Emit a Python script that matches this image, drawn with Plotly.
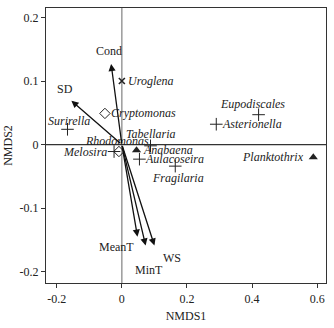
import plotly.graph_objects as go

# ---- data ----
species = ["Uroglena", "Cryptomonas", "Surirella", "Melosira", "Rhodomonas",
           "Tabellaria", "Anabaena", "Aulacoseira", "Fragilaria",
           "Eupodiscales", "Asterionella", "Planktothrix"]
sp_x = [0.000, -0.052, -0.167, -0.024, -0.009, 0.088, 0.045, 0.054, 0.164, 0.42, 0.29, 0.588]
sp_y = [0.100, 0.049, 0.024, -0.011, -0.011, -0.002, -0.009, -0.023, -0.034, 0.047, 0.032, -0.020]
sp_kind = ["x", "diamond", "plus", "plus", "diamond", "plus", "triangle", "plus",
           "plus", "plus", "plus", "triangle"]

env = ["Cond", "SD", "MeanT", "MinT", "WS"]
env_x = [-0.033, -0.155, 0.048, 0.073, 0.100]
env_y = [0.127, 0.069, -0.145, -0.159, -0.159]

x_ticks = [-0.2, 0, 0.2, 0.4, 0.6]
x_ticktext = ["-0.2", "0", "0.2", "0.4", "0.6"]
y_ticks = [-0.2, -0.1, 0, 0.1, 0.2]
y_ticktext = ["-0.2", "-0.1", "0", "0.1", "0.2"]

# ---- styles ----
FONT = "Liberation Serif, serif"
INK = "#222"
marker_style = {
    "x": dict(symbol="x-thin-open", size=6, color=INK, line=dict(color=INK, width=1.6)),
    "diamond": dict(symbol="diamond-open", size=8, color=INK, line=dict(color=INK, width=1)),
    "plus": dict(symbol="cross-thin-open", size=9, color=INK, line=dict(color=INK, width=1)),
    "triangle": dict(symbol="triangle-up", size=8, color=INK, line=dict(width=0)),
}
# label placement (xanchor, yanchor, xshift, yshift) in pixels
label_style = {
    "Uroglena": ("left", "middle", 4, 0),
    "Cryptomonas": ("left", "middle", 4, 0),
    "Surirella": ("center", "middle", 2, 8),
    "Melosira": ("right", "middle", -5, 0),
    "Rhodomonas": ("center", "middle", -2, 11),
    "Tabellaria": ("center", "middle", 0, 12),
    "Anabaena": ("left", "middle", 4, 0),
    "Aulacoseira": ("left", "middle", 4, 0),
    "Fragilaria": ("center", "middle", 3, -12),
    "Eupodiscales": ("center", "middle", -6, 11),
    "Asterionella": ("left", "middle", 4, 0),
    "Planktothrix": ("right", "middle", -7, 0),
}
env_label_shift = {
    "Cond": (-2, 13), "SD": (-6, 12), "MeanT": (-21, -10), "MinT": (3, -24), "WS": (18, -12),
}

fig = go.Figure()

# zero lines
fig.add_shape(type="line", xref="x", yref="paper", x0=0, x1=0, y0=0, y1=1,
              line=dict(color="#808080", width=1.2), layer="below")
fig.add_shape(type="line", xref="paper", yref="y", x0=0, x1=1, y0=0, y1=0,
              line=dict(color="#333", width=1.2), layer="below")

for kind in ["x", "diamond", "plus", "triangle"]:
    idx = [i for i, k in enumerate(sp_kind) if k == kind]
    fig.add_trace(go.Scatter(
        x=[sp_x[i] for i in idx], y=[sp_y[i] for i in idx],
        mode="markers", marker=marker_style[kind], showlegend=False, hoverinfo="skip"))

annotations = []
for name, x, y in zip(species, sp_x, sp_y):
    xa, ya, dx, dy = label_style[name]
    annotations.append(dict(x=x, y=y, xref="x", yref="y", text="<i>" + name + "</i>",
                            showarrow=False, xanchor=xa, yanchor=ya, xshift=dx, yshift=dy,
                            font=dict(family=FONT, size=12, color=INK)))

for name, x, y in zip(env, env_x, env_y):
    annotations.append(dict(x=x, y=y, xref="x", yref="y", ax=0, ay=0, axref="x", ayref="y",
                            text="", showarrow=True, arrowhead=2, arrowsize=1.1,
                            arrowwidth=1.3, arrowcolor="#111", standoff=0, startstandoff=0))
    dx, dy = env_label_shift[name]
    annotations.append(dict(x=x, y=y, xref="x", yref="y", text=name, showarrow=False,
                            xshift=dx, yshift=dy,
                            font=dict(family=FONT, size=12, color=INK)))

fig.update_layout(
    width=334, height=328,
    margin=dict(l=42, r=8, t=7, b=37),
    paper_bgcolor="white", plot_bgcolor="white",
    font=dict(family=FONT, size=12, color=INK),
    annotations=annotations,
    xaxis=dict(range=[-0.233, 0.627], tickvals=x_ticks, ticktext=x_ticktext,
               showgrid=False, zeroline=False, ticks="outside", ticklen=4,
               tickcolor="#333", showline=True, linecolor="#333", linewidth=1.2,
               mirror=True, tickfont=dict(family=FONT, size=12, color=INK),
               title=dict(text="NMDS1", standoff=7, font=dict(family=FONT, size=12, color=INK))),
    yaxis=dict(range=[-0.218, 0.215], tickvals=y_ticks, ticktext=y_ticktext,
               showgrid=False, zeroline=False, ticks="outside", ticklen=4,
               tickcolor="#333", showline=True, linecolor="#333", linewidth=1.2,
               mirror=True, tickfont=dict(family=FONT, size=12, color=INK),
               title=dict(text="NMDS2", standoff=4, font=dict(family=FONT, size=12, color=INK))),
)

fig.write_html("out.html")
